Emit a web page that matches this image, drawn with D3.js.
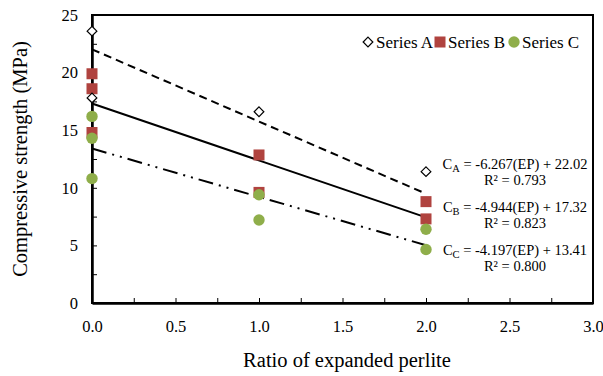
<!DOCTYPE html>
<meta charset="utf-8">
<body style="margin:0">
<div id="graph"></div>
<script src="https://cdn.jsdelivr.net/npm/d3@7"></script>
<script>

// data
var seriesNames = ['Series A', 'Series B', 'Series C'];
var ratioA = [0, 0, 1, 2],          strengthA = [23.6, 17.8, 16.6, 11.4];
var ratioB = [0, 0, 0, 1, 1, 2, 2], strengthB = [19.9, 18.6, 14.8, 12.85, 9.6, 8.8, 7.3];
var ratioC = [0, 0, 0, 1, 1, 2, 2], strengthC = [16.2, 14.3, 10.8, 9.4, 7.2, 6.4, 4.65];
var slopes = [-6.267, -4.944, -4.197];
var intercepts = [22.02, 17.32, 13.41];
var r2 = ['0.793', '0.823', '0.800'];
var subs = ['A', 'B', 'C'];
var xTicks = [0, 0.5, 1, 1.5, 2, 2.5, 3];
var yTicks = [0, 5, 10, 15, 20, 25];

var FONT = 'Liberation Serif';
var W = 603, H = 376,
    margin = {left: 92, top: 15},
    width = 593 - margin.left,
    height = 303 - margin.top;

var svg = d3.select('#graph').append('svg')
    .attr('width', W).attr('height', H);
var g = svg.append('g').attr('transform', 'translate(' + margin.left + ',' + margin.top + ')');

var x = d3.scaleLinear().domain([0, 3]).range([0, width]);
var y = d3.scaleLinear().domain([0, 25]).range([height, 0]);

// frame
g.append('rect').attr('width', width).attr('height', height)
  .attr('fill', 'none').attr('stroke', '#000').attr('stroke-width', 2);

// minor ticks
g.append('g')
  .call(d3.axisLeft(y).tickValues(d3.range(0, 25.01, 2.5)).tickSize(-5).tickFormat(''))
  .call(s => s.select('.domain').remove());
g.append('g').attr('transform', 'translate(0,' + height + ')')
  .call(d3.axisBottom(x).tickValues(d3.range(0, 3.01, 0.25)).tickSize(-5).tickFormat(''))
  .call(s => s.select('.domain').remove());

// labelled axes
var yAxis = g.append('g')
  .call(d3.axisLeft(y).tickValues(yTicks).tickSize(0).tickPadding(14).tickFormat(d3.format('d')));
yAxis.select('.domain').attr('stroke-width', 2.5);
var xAxis = g.append('g').attr('transform', 'translate(0,' + height + ')')
  .call(d3.axisBottom(x).tickValues(xTicks).tickSize(0).tickPadding(17).tickFormat(d3.format('.1f')));
xAxis.select('.domain').attr('stroke-width', 2.5);
svg.selectAll('.tick line').attr('stroke', '#000');
svg.selectAll('.domain').attr('stroke', '#000');
svg.selectAll('.tick text').attr('fill', '#000').attr('font-size', 16.5);

// trend lines
var dashes = ['8,5', null, '15,6,2,6,2,6'];
slopes.forEach(function(m, i) {
  g.append('line')
    .attr('x1', x(0)).attr('y1', y(intercepts[i]))
    .attr('x2', x(2)).attr('y2', y(intercepts[i] + 2 * m))
    .attr('stroke', '#000').attr('stroke-width', 2)
    .attr('stroke-dasharray', dashes[i]);
});

var red = '#b0433f', green = '#8fae4a';
var diamond = d3.symbol().type(d3.symbolDiamond2).size(60);

function drawA(sel) {
  sel.append('path').attr('d', diamond).attr('fill', '#fff').attr('stroke', '#000').attr('stroke-width', 1.2);
}
function drawB(sel) {
  sel.append('rect').attr('x', -5.5).attr('y', -5.5).attr('width', 11).attr('height', 11).attr('fill', red);
}
function drawC(sel) {
  sel.append('circle').attr('r', 5.7).attr('fill', green);
}

g.selectAll('g.b').data(d3.zip(ratioB, strengthB)).join('g').attr('class', 'b')
  .attr('transform', d => 'translate(' + x(d[0]) + ',' + y(d[1]) + ')').call(drawB);
g.selectAll('g.c').data(d3.zip(ratioC, strengthC)).join('g').attr('class', 'c')
  .attr('transform', d => 'translate(' + x(d[0]) + ',' + y(d[1]) + ')').call(drawC);
g.selectAll('g.a').data(d3.zip(ratioA, strengthA)).join('g').attr('class', 'a')
  .attr('transform', d => 'translate(' + x(d[0]) + ',' + y(d[1]) + ')').call(drawA);

// legend
var legX = [368, 440, 514], drawers = [drawA, drawB, drawC];
seriesNames.forEach(function(n, i) {
  var lg = svg.append('g').attr('transform', 'translate(' + legX[i] + ',42)');
  lg.call(drawers[i]);
  lg.append('text').attr('x', 8).attr('y', 6).attr('font-size', 17).text(n);
});

// equations
var eqY = [169, 212, 255];
slopes.forEach(function(m, i) {
  var t = svg.append('text').attr('x', 515).attr('y', eqY[i]).attr('text-anchor', 'middle').attr('font-size', 14.5);
  t.append('tspan').text('C');
  t.append('tspan').attr('font-size', 10.5).attr('dy', 3).text(subs[i]);
  t.append('tspan').attr('dy', -3).text(' = ' + m.toFixed(3) + '(EP) + ' + intercepts[i].toFixed(2));
  svg.append('text').attr('x', 515).attr('y', eqY[i] + 16).attr('text-anchor', 'middle').attr('font-size', 14.5)
    .text('R\u00b2 = ' + r2[i]);
});

// titles
svg.append('text').attr('x', 347).attr('y', 367).attr('text-anchor', 'middle').attr('font-size', 20.5)
  .text('Ratio of expanded perlite');
svg.append('text').attr('transform', 'translate(27,159) rotate(-90)').attr('text-anchor', 'middle').attr('font-size', 20.5)
  .text('Compressive strength (MPa)');

// serif everywhere, set on each text node
svg.selectAll('g').attr('font-family', FONT);
svg.selectAll('text').attr('font-family', FONT);

</script>
</body>
